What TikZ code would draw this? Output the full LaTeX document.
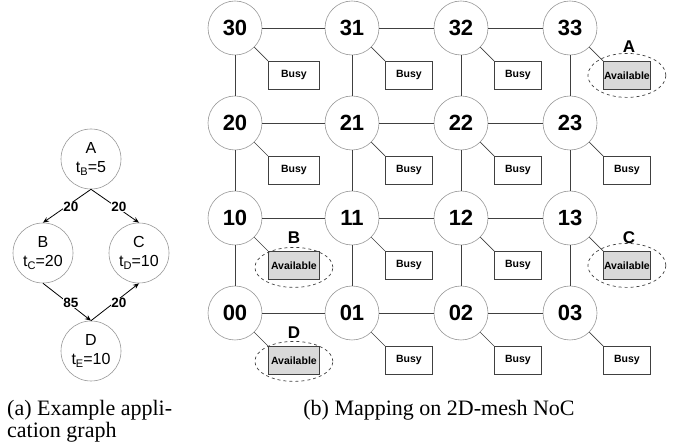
\documentclass[tikz,border=0pt]{standalone}
\usepackage{fontspec}
\setmainfont{Liberation Serif}
\setsansfont{Liberation Sans}
\usetikzlibrary{arrows.meta,shapes.geometric,calc}
\newcommand\lsub[1]{\raisebox{-0.35ex}{\fontsize{11}{11}\selectfont #1}}
\begin{document}
\begin{tikzpicture}[x=1pt,y=-1pt,
  task/.style={circle,draw=black!40,line width=0.6pt,fill=white,minimum size=60pt,inner sep=0pt,
    align=center,font=\sffamily\fontsize{16}{19}\selectfont},
  dep/.style={line width=0.8pt,-{Stealth[length=6pt,width=5pt]}},
  cost/.style={fill=white,inner sep=0.5pt,font=\sffamily\bfseries\fontsize{13.5}{13.5}\selectfont},
  router/.style={circle,draw=black!40,line width=0.6pt,fill=white,minimum size=54pt,inner sep=0pt,
    font=\sffamily\bfseries\fontsize{22}{22}\selectfont},
  link/.style={draw=black!75,line width=0.9pt},
  pe/.style={draw=black!75,line width=0.8pt,minimum height=28pt,inner sep=0pt,anchor=north west,
    font=\sffamily\bfseries\fontsize{10.5}{10.5}\selectfont},
  free/.style={pe,fill=black!15},
  halo/.style={ellipse,draw=black!75,dashed,line width=0.7pt,minimum width=78pt,inner sep=0pt},
  tag/.style={font=\sffamily\bfseries\fontsize{17}{17}\selectfont,inner sep=0pt},
  captext/.style={font=\fontsize{22}{22}\selectfont,inner sep=0pt}]
\useasboundingbox (0,0) rectangle (681,446);

% ---- application graph ----
\node[task] (A) at (91,159) {A\\t\lsub{B}=5};
\node[task] (B) at (43,253) {B\\t\lsub{C}=20};
\node[task] (C) at (139,253) {C\\t\lsub{D}=10};
\node[task] (D) at (91,351) {D\\t\lsub{E}=10};
\draw[dep] (A.south) -- (B.north);
\draw[dep] (A.south) -- (C.north);
\draw[dep] (B.south) -- (D.north);
\draw[dep] (D.north) -- (C.south);
\node[cost] (wAB) at (71,207) {20};
\node[cost] (wAC) at (119,207) {20};
\node[cost] (wBD) at (71,303) {85};
\node[cost] (wDC) at (119,303) {20};

% ---- 4x4 mesh ----
\foreach \r/\y in {3/28,2/123,1/218,0/313}
  \foreach \c/\x in {0/235,1/352,2/461,3/570}
    \node[router] (r\r\c) at (\x,\y) {\r\c};

\foreach \r in {0,...,3}{
  \draw[link] (r\r0) -- (r\r1) -- (r\r2) -- (r\r3);
  \draw[link] (r0\r) -- (r1\r) -- (r2\r) -- (r3\r);
}

% processing elements attached to each router
\foreach \r/\c/\w/\kind/\txt in {
  3/0/51/pe/Busy, 3/1/47/pe/Busy, 3/2/47/pe/Busy, 3/3/47/free/Available,
  2/0/51/pe/Busy, 2/1/47/pe/Busy, 2/2/47/pe/Busy, 2/3/47/pe/Busy,
  1/0/51/free/Available, 1/1/47/pe/Busy, 1/2/47/pe/Busy, 1/3/47/free/Available,
  0/0/51/free/Available, 0/1/47/pe/Busy, 0/2/47/pe/Busy, 0/3/47/pe/Busy}{
  \node[\kind,minimum width=\w pt] (p\r\c) at ($(r\r\c.center)+(33,33)$) {\txt};
  \draw[link,line width=0.7pt] (r\r\c.-45) -- (p\r\c.north west);
}

% selected cores for tasks A--D
\node[halo,minimum height=44pt] (eA) at ($(p33.center)+(0,0)$) {};
\node[halo,minimum height=44pt] (eC) at ($(p13.center)+(0,0)$) {};
\node[halo,minimum height=40pt] (eB) at ($(p10.center)+(0,2)$) {};
\node[halo,minimum height=40pt] (eD) at ($(p00.center)+(0,1)$) {};
\node[tag] (lA) at (629,47) {A};
\node[tag] (lB) at (294,238) {B};
\node[tag] (lC) at (629,238) {C};
\node[tag] (lD) at (294,333) {D};

% ---- captions ----
\node[captext,anchor=base west] (capa1) at (7,416) {(a) Example appli-};
\node[captext,anchor=base west] (capa2) at (7,438) {cation graph};
\node[captext,anchor=base] (capb) at (439,416) {(b) Mapping on 2D-mesh NoC};
\end{tikzpicture}
\end{document}
